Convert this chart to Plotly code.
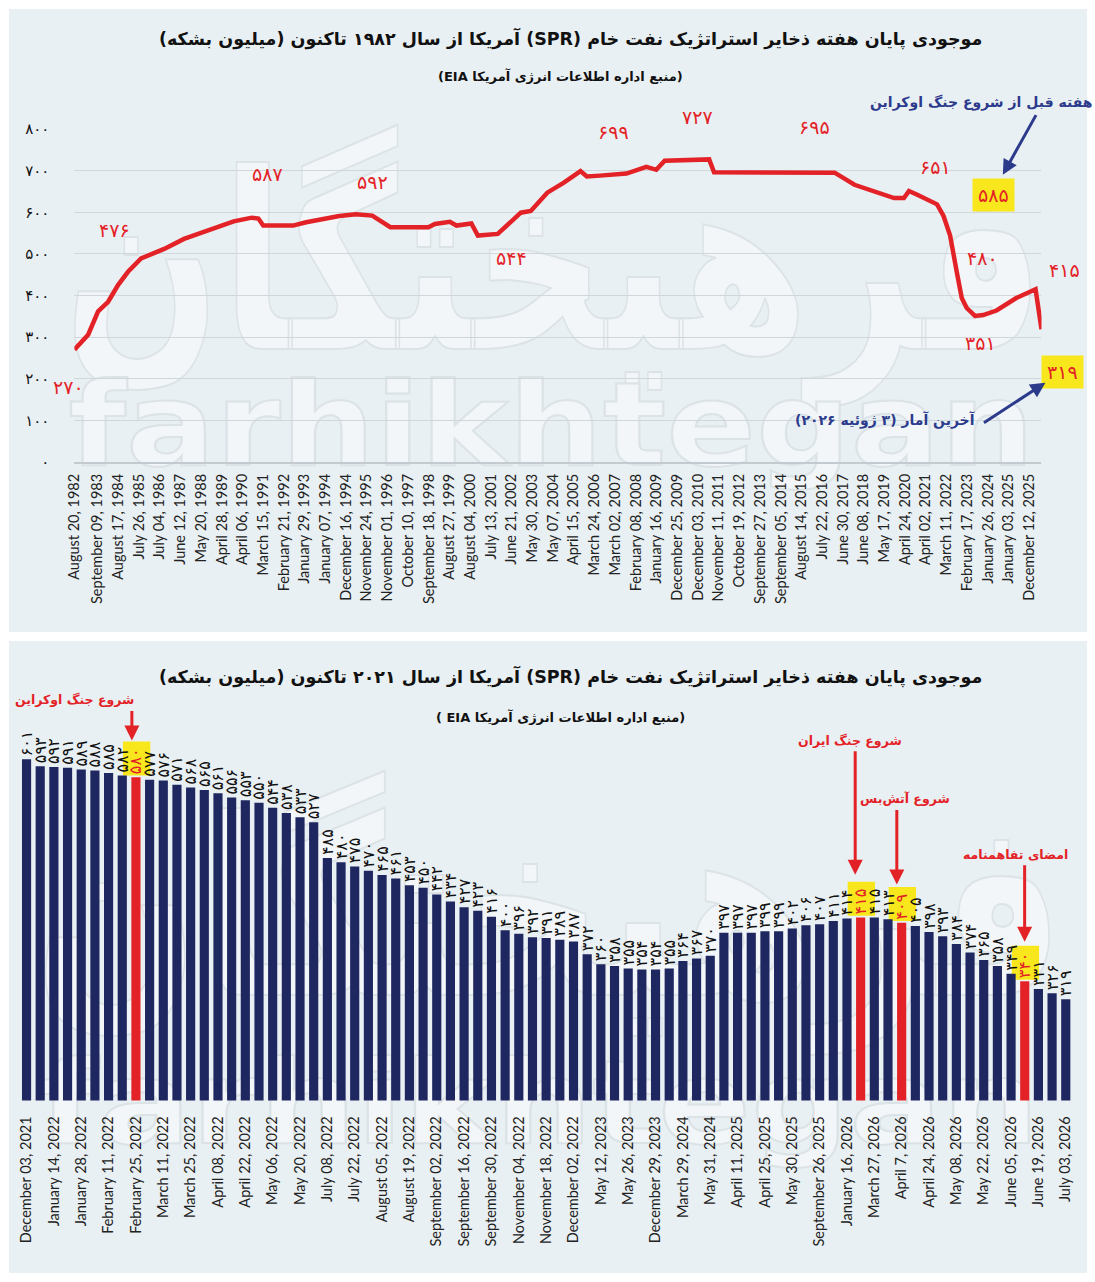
import base64
import pandas as pd
import plotly.graph_objects as go

W, H = 1095, 1282


def px(x):
    return x / W


def py(y):
    return 1 - y / H


FA_DIGITS = str.maketrans("0123456789", "۰۱۲۳۴۵۶۷۸۹")


def fa(n):
    return str(n).translate(FA_DIGITS)


def rtl(s):
    return "\u202B" + s + "\u202C"


# ---------------- data: top chart (SPR since 1982) ----------------
line_dates = [
    "1982-08-20", "1983-04-05", "1983-09-17", "1984-03-01", "1984-08-12", "1985-01-24",
    "1985-08-29", "1986-09-16", "1987-08-10", "1988-08-29", "1989-11-10", "1990-09-06",
    "1990-12-24", "1991-03-15", "1992-07-20", "1993-02-23", "1994-08-25", "1995-05-26",
    "1996-02-23", "1996-12-19", "1998-09-10", "1998-12-28", "1999-09-01", "1999-12-20",
    "2000-08-22", "2000-12-08", "2001-11-02", "2002-11-20", "2003-05-04", "2004-02-01",
    "2004-11-02", "2005-08-04", "2005-11-17", "2006-06-25", "2007-09-05", "2008-07-30",
    "2009-01-11", "2009-05-30", "2011-06-06", "2011-08-26", "2014-04-08", "2015-06-22",
    "2017-02-13", "2018-01-07", "2019-01-25", "2019-10-26", "2020-04-06", "2020-06-28",
    "2020-11-13", "2021-10-07", "2022-01-22", "2022-05-11", "2022-08-29", "2022-11-20",
    "2023-02-10", "2023-06-28", "2023-11-10", "2024-06-18", "2025-05-11", "2026-03-27",
    "2026-07-03",
]
line_values = [
    270, 306, 362, 385, 425, 457,
    489, 512, 536, 556, 578, 587,
    585, 568, 568, 576, 591, 595,
    592, 564, 564, 572, 577, 568,
    573, 544, 548, 599, 603, 647,
    671, 699, 686, 688, 693, 709,
    702, 724, 727, 696, 695, 697,
    695, 666, 648, 634, 634, 651,
    642, 619, 591, 544, 457, 394,
    370, 351, 353, 364, 394, 415,
    319,
]
top_tick_dates = [
    "1982-08-20", "1983-09-09", "1984-08-17", "1985-07-26", "1986-07-04", "1987-06-12",
    "1988-05-20", "1989-04-28", "1990-04-06", "1991-03-15", "1992-02-21", "1993-01-29",
    "1994-01-07", "1994-12-16", "1995-11-24", "1996-11-01", "1997-10-10", "1998-09-18",
    "1999-08-27", "2000-08-04", "2001-07-13", "2002-06-21", "2003-05-30", "2004-05-07",
    "2005-04-15", "2006-03-24", "2007-03-02", "2008-02-08", "2009-01-16", "2009-12-25",
    "2010-12-03", "2011-11-11", "2012-10-19", "2013-09-27", "2014-09-05", "2015-08-14",
    "2016-07-22", "2017-06-30", "2018-06-08", "2019-05-17", "2020-04-24", "2021-04-02",
    "2022-03-11", "2023-02-17", "2024-01-26", "2025-01-03", "2025-12-12",
]
top_tick_labels = [pd.Timestamp(d).strftime("%B %d, %Y") for d in top_tick_dates]
top_y_ticks = [0, 100, 200, 300, 400, 500, 600, 700, 800]
top_callout_values = [270, 476, 587, 592, 544, 699, 727, 695, 651, 480, 351, 415]
pre_war_value = 585
latest_value = 319

# ---------------- data: bottom chart (SPR since 2021) ----------------
bar_values = [
    601, 593, 592, 591, 589, 588, 585, 582, 580, 577, 576, 571, 568, 565, 561, 556,
    553, 550, 544, 538, 533, 527, 485, 480, 475, 470, 465, 461, 453, 450, 442, 434,
    427, 423, 416, 400, 396, 392, 391, 389, 387, 372, 360, 358, 355, 354, 354, 355,
    364, 367, 370, 397, 397, 397, 399, 399, 402, 406, 407, 411, 414, 415, 415, 413,
    409, 405, 398, 393, 384, 374, 365, 358, 349, 340, 331, 326, 319,
]
bar_tick_labels = [
    "December 03, 2021", "January 14, 2022", "January 28, 2022", "February 11, 2022",
    "February 25, 2022", "March 11, 2022", "March 25, 2022", "April 08, 2022",
    "April 22, 2022", "May 06, 2022", "May 20, 2022", "July 08, 2022", "July 22, 2022",
    "August 05, 2022", "August 19, 2022", "September 02, 2022", "September 16, 2022",
    "September 30, 2022", "November 04, 2022", "November 18, 2022", "December 02, 2022",
    "May 12, 2023", "May 26, 2023", "December 29, 2023", "March 29, 2024", "May 31, 2024",
    "April 11, 2025", "April 25, 2025", "May 30, 2025", "September 26, 2025",
    "January 16, 2026", "March 27, 2026", "April 7, 2026", "April 24, 2026",
    "May 08, 2026", "May 22, 2026", "June 05, 2026", "June 19, 2026", "July 03, 2026",
]
event_bars = [8, 61, 64, 73]
event_names = ["شروع جنگ اوکراین", "شروع جنگ ایران", "شروع آتش‌بس", "امضای تفاهمنامه"]

# ---------------- styles ----------------
RED = "#e32227"
NAVY = "#1f2760"
BLUE_TXT = "#2c3a8c"
YELLOW = "#f8e71c"
PANEL = "#e9f0f3"
FA_FONT = "DejaVu Sans"
EN_FONT = "Lato"

# background panels + watermark as an inline SVG (no network)
svg = f"""<svg xmlns="http://www.w3.org/2000/svg" width="{W}" height="{H}">
<rect x="0" y="0" width="1088" height="632" fill="{PANEL}"/>
<rect x="0" y="641" width="1088" height="641" fill="{PANEL}"/>
<g font-family="DejaVu Sans" font-weight="bold" fill="#f3f6f8" stroke="#dce3e7" stroke-width="2">
<text x="550" y="345" font-size="250" text-anchor="middle" textLength="990" lengthAdjust="spacingAndGlyphs">فرهیختگان</text>
<text x="60" y="462" font-size="118" textLength="975" lengthAdjust="spacingAndGlyphs">farhikhtegan</text>
<text x="545" y="1000" font-size="250" text-anchor="middle" textLength="1040" lengthAdjust="spacingAndGlyphs">فرهیختگان</text>
<text x="30" y="1150" font-size="118" textLength="1010" lengthAdjust="spacingAndGlyphs">farhikhtegan</text>
</g></svg>"""
svg_uri = "data:image/svg+xml;base64," + base64.b64encode(svg.encode("utf-8")).decode()

fig = go.Figure()

# top line
fig.add_trace(go.Scatter(
    x=pd.to_datetime(line_dates), y=line_values, mode="lines",
    line=dict(color=RED, width=4.5), xaxis="x", yaxis="y",
    hoverinfo="skip", showlegend=False,
))

# bottom bars
bar_x = list(range(len(bar_values)))
bar_colors = [RED if i in event_bars else NAVY for i in bar_x]
text_colors = [RED if i in event_bars else "#111111" for i in bar_x]
fig.add_trace(go.Bar(
    x=bar_x, y=bar_values, marker=dict(color=bar_colors, line=dict(width=0)),
    text=[fa(v) for v in bar_values], textposition="outside", textangle=-90,
    textfont=dict(family=FA_FONT, size=16, color=text_colors),
    outsidetextfont=dict(family=FA_FONT, size=16, color=text_colors),
    cliponaxis=False, constraintext="none",
    xaxis="x2", yaxis="y2", hoverinfo="skip", showlegend=False,
))

shapes = []
for i in event_bars:
    v = bar_values[i]
    shapes.append(dict(type="rect", xref="x2", yref="y2", x0=i - 0.95, x1=i + 1.05,
                       y0=v + 2, y1=v + 42, fillcolor=YELLOW, line=dict(width=0),
                       layer="below"))

annotations = []


def txt(text, x, y, size, color, bold=False, family=FA_FONT, **kw):
    t = f"<b>{text}</b>" if bold else text
    annotations.append(dict(text=t, x=px(x), y=py(y), xref="paper", yref="paper",
                            showarrow=False, font=dict(family=family, size=size, color=color),
                            xanchor="center", yanchor="middle", **kw))


def arrow(x0, y0, x1, y1, color, width=3):
    annotations.append(dict(text="", x=px(x1), y=py(y1), xref="paper", yref="paper",
                            ax=x0 - x1, ay=y0 - y1, axref="pixel", ayref="pixel",
                            showarrow=True, arrowhead=2, arrowsize=1, arrowwidth=width,
                            arrowcolor=color))


# titles
txt(rtl("موجودی پایان هفته ذخایر استراتژیک نفت خام (SPR) آمریکا از سال ۱۹۸۲ تاکنون (میلیون بشکه)"),
    567, 30, 17.5, "#111111", bold=True)
txt(rtl("(منبع اداره اطلاعات انرژی آمریکا EIA)"), 557, 68, 13, "#111111", bold=True)
txt(rtl("موجودی پایان هفته ذخایر استراتژیک نفت خام (SPR) آمریکا از سال ۲۰۲۱ تاکنون (میلیون بشکه)"),
    567, 677, 17.5, "#111111", bold=True)
txt(rtl("(منبع اداره اطلاعات انرژی آمریکا EIA )"), 557, 718, 13, "#111111", bold=True)

# top callouts
callout_pos = [(60, 383), (106, 224), (261, 167), (367, 175), (507, 253), (610, 125),
               (695, 110), (813, 120), (935, 160), (982, 253), (980, 339), (1065, 265)]
for v, (x, y) in zip(top_callout_values, callout_pos):
    txt(fa(v), x, y, 19, RED)
txt(fa(pre_war_value), 994, 189, 19, RED, bgcolor=YELLOW, borderpad=5)
txt(fa(latest_value), 1063, 368, 19, RED, bgcolor=YELLOW, borderpad=5)
txt(rtl("هفته قبل از شروع جنگ اوکراین"), 981, 95, 14, BLUE_TXT, bold=True)
arrow(1037, 107, 1003, 168, BLUE_TXT)
txt(rtl("آخرین آمار (۳ ژوئیه ۲۰۲۶)"), 885, 417, 14, BLUE_TXT, bold=True)
arrow(983, 420, 1046, 379, BLUE_TXT)

# bottom events
event_text_pos = [(66, 700), (849, 742), (904, 801), (1016, 858)]
event_arrows = [(124, 711, 124, 742), (854, 753, 854, 878), (896, 812, 896, 888),
                (1025, 868, 1025, 946)]
for name, (x, y), (ax0, ay0, ax1, ay1) in zip(event_names, event_text_pos, event_arrows):
    txt(rtl(name), x, y, 12.5, RED, bold=True)
    arrow(ax0, ay0, ax1, ay1, RED)

fig.update_layout(
    width=W, height=H, autosize=False,
    margin=dict(l=0, r=0, t=0, b=0, pad=0),
    paper_bgcolor="white", plot_bgcolor="rgba(0,0,0,0)",
    showlegend=False, bargap=0.33,
    uniformtext=dict(mode=False),
    images=[dict(source=svg_uri, xref="paper", yref="paper", x=0, y=1, sizex=1, sizey=1,
                 xanchor="left", yanchor="top", sizing="stretch", layer="below")],
    shapes=shapes, annotations=annotations,
    xaxis=dict(
        domain=[px(66), px(1042)], type="date", range=["1982-08-20", "2026-07-03"],
        tickmode="array", tickvals=pd.to_datetime(top_tick_dates), ticktext=top_tick_labels,
        tickangle=-90, tickfont=dict(family=EN_FONT, size=14.5, color="#222222"),
        showgrid=False, zeroline=False, showline=True, linecolor="#c3cbd0", linewidth=2,
        ticks="", ticklabelstandoff=4, anchor="y",
    ),
    yaxis=dict(
        domain=[py(459.5), py(121.7)], range=[0, 800],
        tickmode="array", tickvals=top_y_ticks, ticktext=[fa(v) for v in top_y_ticks],
        tickfont=dict(family=FA_FONT, size=15, color="#111111"),
        showgrid=True, gridcolor="#cfd7db", gridwidth=1, zeroline=False, showline=False,
        ticks="", ticklabelstandoff=24, anchor="x",
    ),
    xaxis2=dict(
        domain=[px(10.8), px(1073.4)], range=[-0.5, len(bar_values) - 0.5],
        tickmode="array", tickvals=bar_x[::2], ticktext=bar_tick_labels,
        tickangle=-90, tickfont=dict(family=EN_FONT, size=14.5, color="#222222"),
        showgrid=False, zeroline=False, showline=False, ticks="", ticklabelstandoff=12,
        anchor="y2",
    ),
    yaxis2=dict(
        domain=[py(1107), py(740.3)], range=[200, 625], visible=False, anchor="x2",
    ),
)

fig.write_html("out.html")
